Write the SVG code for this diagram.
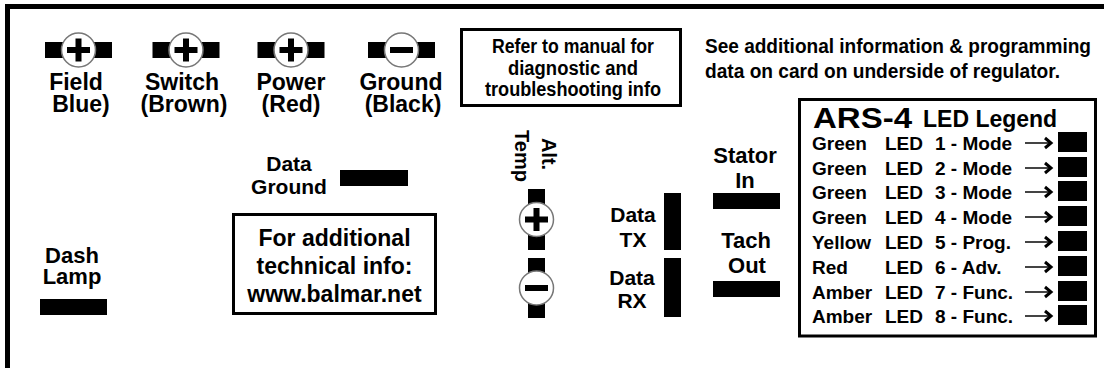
<svg xmlns="http://www.w3.org/2000/svg" xmlns:xlink="http://www.w3.org/1999/xlink" width="1104" height="368" viewBox="0 0 1104 368">
<style>
text{font-family:"Liberation Sans",Arial,sans-serif;font-weight:bold;fill:#000}
.lbl{font-size:23px;text-anchor:middle}
.mid{font-size:21px;text-anchor:middle}
.note{font-size:20px;text-anchor:middle}
.box{fill:none;stroke:#000;stroke-width:3}
.bar{fill:#000}
.ring{fill:#fff;stroke:#777;stroke-width:1.5}
.sign{stroke:#000;stroke-width:6;fill:none}
.row{font-size:19px}
.shaft{stroke:#444;stroke-width:2}
.head{stroke:#000;stroke-width:3;fill:none;stroke-linejoin:miter}
</style>
<defs>
<g id="termPlusH"><rect class="bar" x="-33.5" y="-8" width="67" height="16"/><circle class="ring" r="17"/><path class="sign" d="M-11.5,0H11.5M0,-11.5V11.5"/></g>
<g id="termMinusH"><rect class="bar" x="-33.5" y="-8" width="67" height="16"/><circle class="ring" r="17"/><path class="sign" d="M-11.5,0H11.5"/></g>
<g id="arrowSq"><line class="shaft" x1="0" y1="0" x2="25" y2="0"/><path class="head" d="M20,-5L26,0L20,5"/><rect class="bar" x="33" y="-11" width="29" height="20"/></g>
</defs>
<path d="M7.5,368V6.5H1104" fill="none" stroke="#000" stroke-width="5"/>

<g id="field"><use xlink:href="#termPlusH" x="78.5" y="50"/><text class="lbl" x="76" y="90">Field</text><text class="lbl" x="81" y="112">Blue)</text></g>
<g id="switch"><use xlink:href="#termPlusH" x="186" y="50"/><text class="lbl" x="182" y="90">Switch</text><text class="lbl" x="184" y="112">(Brown)</text></g>
<g id="power"><use xlink:href="#termPlusH" x="291" y="50"/><text class="lbl" x="291" y="90">Power</text><text class="lbl" x="291" y="112">(Red)</text></g>
<g id="ground"><use xlink:href="#termMinusH" x="401.5" y="50"/><text class="lbl" x="401" y="90">Ground</text><text class="lbl" x="403" y="112">(Black)</text></g>

<g id="refer-note"><rect class="box" x="461.5" y="29.5" width="219" height="76"/>
<text class="note" x="573" y="53" textLength="162" lengthAdjust="spacingAndGlyphs">Refer to manual for</text>
<text class="note" x="573" y="75" textLength="130" lengthAdjust="spacingAndGlyphs">diagnostic and</text>
<text class="note" x="573" y="96" textLength="176" lengthAdjust="spacingAndGlyphs">troubleshooting info</text></g>

<g id="see-note"><text style="font-size:20px" x="705" y="53" textLength="386" lengthAdjust="spacingAndGlyphs">See additional information &amp; programming</text>
<text style="font-size:20px" x="705" y="78" textLength="355" lengthAdjust="spacingAndGlyphs">data on card on underside of regulator.</text></g>

<g id="data-ground"><text class="mid" x="289" y="171">Data</text><text class="mid" x="289" y="194">Ground</text><rect class="bar" x="340" y="170" width="68" height="16"/></g>

<g id="web-note"><rect class="box" x="233.5" y="214.5" width="202" height="99"/>
<text class="lbl" x="334.5" y="246">For additional</text>
<text class="lbl" x="334.5" y="274">technical info:</text>
<text class="lbl" x="334.5" y="302">www.balmar.net</text></g>

<g id="dash-lamp"><text style="font-size:22px;text-anchor:middle" x="72" y="263">Dash</text><text style="font-size:22px;text-anchor:middle" x="72" y="284">Lamp</text><rect class="bar" x="40" y="299" width="67" height="16"/></g>

<g id="alt-temp"><text style="font-size:20px;text-anchor:middle" transform="translate(542,154) rotate(90)">Alt.</text>
<text style="font-size:20px;text-anchor:middle" transform="translate(515,156) rotate(90)">Temp</text>
<g transform="translate(536.5,219.5) rotate(90)"><rect class="bar" x="-30.5" y="-8.5" width="61" height="17"/><circle class="ring" r="17"/><path class="sign" d="M-11.5,0H11.5M0,-11.5V11.5"/></g>
<g transform="translate(536.5,288) rotate(90)"><rect class="bar" x="-30" y="-8.5" width="60" height="17"/><circle class="ring" r="17"/><path class="sign" d="M0,-11.5V11.5"/></g></g>

<g id="data-tx"><text class="mid" x="633" y="222">Data</text><text class="mid" x="633" y="247">TX</text><rect class="bar" x="664" y="193" width="17" height="57"/></g>
<g id="data-rx"><text class="mid" x="632" y="285">Data</text><text class="mid" x="632" y="308">RX</text><rect class="bar" x="664" y="258" width="17" height="59"/></g>

<g id="stator-in"><text style="font-size:22px;text-anchor:middle" x="745" y="163">Stator</text><text style="font-size:22px;text-anchor:middle" x="745" y="188">In</text><rect class="bar" x="713" y="193" width="67" height="16"/></g>
<g id="tach-out"><text style="font-size:22px;text-anchor:middle" x="746" y="248">Tach</text><text style="font-size:22px;text-anchor:middle" x="747" y="273">Out</text><rect class="bar" x="713" y="281" width="67" height="16"/></g>

<g id="legend"><rect class="box" x="799.5" y="99.5" width="296" height="236.5"/>
<text style="font-size:29px" x="813" y="128" textLength="99" lengthAdjust="spacingAndGlyphs">ARS-4</text>
<text style="font-size:23px" x="923" y="127">LED Legend</text>
<g class="row">
<text x="812" y="150">Green</text><text x="885" y="150">LED</text><text x="935" y="150">1 - Mode</text><use xlink:href="#arrowSq" x="1025" y="143"/>
<text x="812" y="175">Green</text><text x="885" y="175">LED</text><text x="935" y="175">2 - Mode</text><use xlink:href="#arrowSq" x="1025" y="168"/>
<text x="812" y="199">Green</text><text x="885" y="199">LED</text><text x="935" y="199">3 - Mode</text><use xlink:href="#arrowSq" x="1025" y="192"/>
<text x="812" y="224">Green</text><text x="885" y="224">LED</text><text x="935" y="224">4 - Mode</text><use xlink:href="#arrowSq" x="1025" y="217"/>
<text x="812" y="249">Yellow</text><text x="885" y="249">LED</text><text x="935" y="249">5 - Prog.</text><use xlink:href="#arrowSq" x="1025" y="242"/>
<text x="812" y="274">Red</text><text x="885" y="274">LED</text><text x="935" y="274">6 - Adv.</text><use xlink:href="#arrowSq" x="1025" y="267"/>
<text x="812" y="299">Amber</text><text x="885" y="299">LED</text><text x="935" y="299">7 - Func.</text><use xlink:href="#arrowSq" x="1025" y="292"/>
<text x="812" y="323">Amber</text><text x="885" y="323">LED</text><text x="935" y="323">8 - Func.</text><use xlink:href="#arrowSq" x="1025" y="316"/>
</g></g>
</svg>
